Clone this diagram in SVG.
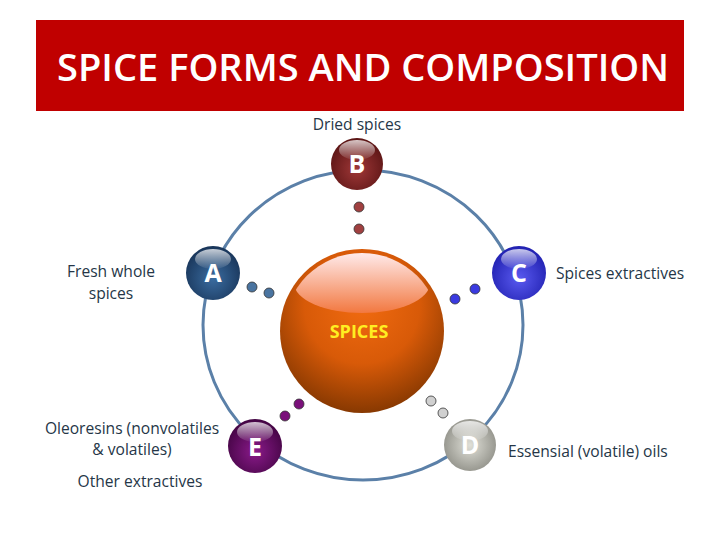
<svg xmlns="http://www.w3.org/2000/svg" width="720" height="540" viewBox="0 0 720 540">
<defs>
<style>
.lbl{font-family:"Open Sans","Liberation Sans",sans-serif;font-size:15.6px;fill:#253647}
.let{font-family:"Open Sans","Liberation Sans",sans-serif;font-size:25px;font-weight:bold;fill:#fff;text-anchor:middle}
.gloss{fill:url(#gl)}
</style>
<linearGradient id="gl" x1="0" y1="0" x2="0" y2="1">
<stop offset="0" stop-color="#fff" stop-opacity="0.75"/>
<stop offset="1" stop-color="#fff" stop-opacity="0.05"/>
</linearGradient>
<radialGradient id="gBig" cx="0.5" cy="0.35" r="0.7">
<stop offset="0" stop-color="#f06a10"/>
<stop offset="0.5" stop-color="#d85a08"/>
<stop offset="1" stop-color="#7a3300"/>
</radialGradient>
<linearGradient id="gBigHi" x1="0" y1="0" x2="0" y2="1">
<stop offset="0" stop-color="#ffeaea"/>
<stop offset="1" stop-color="#f27840"/>
</linearGradient>
<clipPath id="cBig"><circle cx="362" cy="331" r="78"/></clipPath>
<radialGradient id="gA" cx="0.5" cy="0.6" r="0.6"><stop offset="0" stop-color="#3a6ca0"/><stop offset="1" stop-color="#183458"/></radialGradient>
<radialGradient id="gB" cx="0.5" cy="0.6" r="0.6"><stop offset="0" stop-color="#a03838"/><stop offset="1" stop-color="#5a1414"/></radialGradient>
<radialGradient id="gC" cx="0.5" cy="0.6" r="0.6"><stop offset="0" stop-color="#5a5af0"/><stop offset="1" stop-color="#2020b0"/></radialGradient>
<radialGradient id="gD" cx="0.5" cy="0.5" r="0.6"><stop offset="0" stop-color="#e0e0d8"/><stop offset="1" stop-color="#8a8a82"/></radialGradient>
<radialGradient id="gE" cx="0.5" cy="0.6" r="0.6"><stop offset="0" stop-color="#8a1a8a"/><stop offset="1" stop-color="#420442"/></radialGradient>
</defs>

<rect x="36" y="20" width="648" height="91" fill="#c00000"/>
<text x="363" y="81" text-anchor="middle" font-family="'Open Sans','Liberation Sans',sans-serif" font-size="38" font-weight="600" fill="#fff" textLength="612" lengthAdjust="spacingAndGlyphs">SPICE FORMS AND COMPOSITION</text>

<g id="connectors">
<ellipse cx="363" cy="325" rx="160" ry="155" fill="none" stroke="#5b80a8" stroke-width="3"/>
<g stroke="#333" stroke-width="0.8">
<circle cx="359" cy="207" r="5" fill="#a04040"/>
<circle cx="359" cy="229" r="5" fill="#a04040"/>
<circle cx="252" cy="287" r="5" fill="#4a74a0"/>
<circle cx="269" cy="293" r="5" fill="#4a74a0"/>
<circle cx="475" cy="289" r="5" fill="#3a3ae0"/>
<circle cx="455" cy="299" r="5" fill="#3a3ae0"/>
<circle cx="299" cy="404" r="5" fill="#7a107a"/>
<circle cx="285" cy="416" r="5" fill="#7a107a"/>
<circle cx="431" cy="401" r="5" fill="#d0d0d0"/>
<circle cx="443" cy="413" r="5" fill="#d0d0d0"/>
</g>
</g>

<g id="center">
<circle cx="362" cy="331" r="82" fill="url(#gBig)"/>
<ellipse cx="362" cy="283" rx="68" ry="30" fill="url(#gBigHi)" clip-path="url(#cBig)"/>
<text x="359" y="338" text-anchor="middle" font-family="'Open Sans','Liberation Sans',sans-serif" font-size="18" font-weight="bold" fill="#ffee22">SPICES</text>
</g>

<g id="nodeB">
<circle cx="357" cy="164" r="26" fill="url(#gB)"/>
<ellipse cx="357" cy="150" rx="18" ry="10" class="gloss"/>
<text x="357" y="173" class="let">B</text>
<text x="357" y="130" class="lbl" text-anchor="middle">Dried spices</text>
</g>

<g id="nodeA">
<circle cx="213" cy="273" r="27" fill="url(#gA)"/>
<ellipse cx="213" cy="259" rx="18" ry="10" class="gloss"/>
<text x="213" y="282" class="let">A</text>
<text x="111" y="277" class="lbl" text-anchor="middle">Fresh whole</text>
<text x="111" y="299" class="lbl" text-anchor="middle">spices</text>
</g>

<g id="nodeC">
<circle cx="519" cy="273" r="27" fill="url(#gC)"/>
<ellipse cx="519" cy="259" rx="18" ry="10" class="gloss"/>
<text x="519" y="282" class="let">C</text>
<text x="556" y="279" class="lbl">Spices extractives</text>
</g>

<g id="nodeD">
<circle cx="470" cy="445" r="26" fill="url(#gD)"/>
<ellipse cx="470" cy="431" rx="18" ry="10" class="gloss"/>
<text x="470" y="454" class="let">D</text>
<text x="508" y="457" class="lbl">Essensial (volatile) oils</text>
</g>

<g id="nodeE">
<circle cx="255" cy="446" r="27" fill="url(#gE)"/>
<ellipse cx="255" cy="432" rx="18" ry="10" class="gloss"/>
<text x="255" y="456" class="let">E</text>
<text x="132" y="434" class="lbl" text-anchor="middle">Oleoresins (nonvolatiles</text>
<text x="132" y="455" class="lbl" text-anchor="middle">&amp; volatiles)</text>
<text x="140" y="487" class="lbl" text-anchor="middle">Other extractives</text>
</g>
</svg>
